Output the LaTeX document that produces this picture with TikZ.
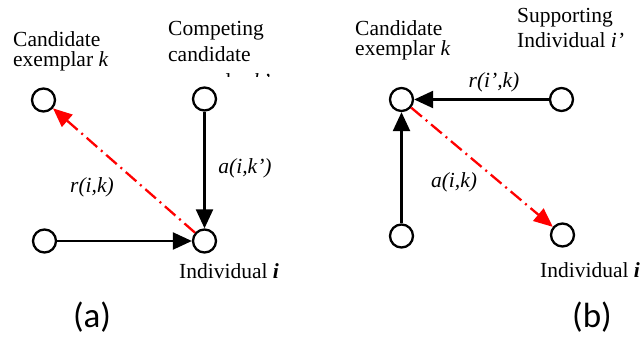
\documentclass[tikz,border=0pt]{standalone}
\usepackage{fontspec}
\setmainfont{Liberation Serif}
\newfontfamily\labfont{Carlito}
\usetikzlibrary{arrows.meta}
\begin{document}
\begin{tikzpicture}[x=1pt,y=-1pt,
  vert/.style={circle,draw,line width=2.3pt,minimum size=23pt,inner sep=0pt},
  txt/.style={font=\fontsize{21.5}{20}\selectfont,inner sep=0pt,anchor=base west},
  lab/.style={font=\fontsize{21.5}{20}\selectfont\itshape,inner sep=0pt,anchor=base},
  sub/.style={font=\labfont\fontsize{35}{38}\selectfont,inner sep=0pt,anchor=base},
  blk/.style={line width=2.3pt,-{Triangle[length=19pt,width=17pt]}},
  redarr/.style={red,line width=2.3pt,dash pattern=on 14pt off 5pt on 2pt off 5pt,-{Triangle[length=19pt,width=16pt]}}]
\useasboundingbox[fill=white] (0,0) rectangle (642,339);
% panel (a)
\node[vert] (ka) at (43.5,100) {};
\node[vert] (kpa) at (204.5,99) {};
\node[vert] (la) at (44.5,241) {};
\node[vert] (ia) at (204.5,241) {};
% panel (b)
\node[vert] (kb) at (401.5,99.5) {};
\node[vert] (ipb) at (561.5,99.5) {};
\node[vert] (lb) at (401.5,236) {};
\node[vert] (ib) at (562.5,235) {};
% texts (a)
\node[txt] (ta1) at (13,47) {Candidate};
\node[txt] (ta2) at (13,67) {exemplar \textit{k}};
\node[txt] (ta3) at (168,36) {Competing};
\node[txt] (ta4) at (168,62) {candidate};
\begin{scope}
\clip (150,64) rectangle (300,77);
\node[txt] (ta5) at (168,89) {exemplar \textit{k’}};
\end{scope}
\node[txt] (ta6) at (179,278) {Individual \textbf{\textit{i}}};
\node[lab] (la1) at (92,193) {r(i,k)};
\node[lab] (la2) at (245,174) {a(i,k’)};
\node[sub] (sa) at (92,327) {(a)};
% texts (b)
\node[txt] (tb1) at (355,36) {Candidate};
\node[txt] (tb2) at (355,56) {exemplar \textit{k}};
\node[txt] (tb3) at (517,23) {Supporting};
\node[txt] (tb4) at (517,48) {Individual \textit{i’}};
\node[txt] (tb5) at (540,277) {Individual \textbf{\textit{i}}};
\node[lab] (lb1) at (494,88) {r(i’,k)};
\node[lab] (lb2) at (454,188) {a(i,k)};
\node[sub] (sb) at (592,327) {(b)};
% connectors
\draw[redarr] (ia) -- (ka);
\draw[blk] (kpa) -- (ia);
\draw[blk] (la) -- (ia);
\draw[blk] (ipb) -- (kb);
\draw[blk] (lb) -- (kb);
\draw[redarr] (kb) -- (ib);
\end{tikzpicture}
\end{document}
